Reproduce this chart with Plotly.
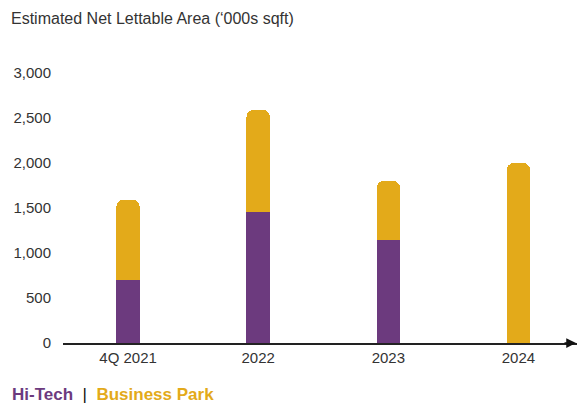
import plotly.graph_objects as go

# Estimated net lettable area, '000s sqft
periods = ["4Q 2021", "2022", "2023", "2024"]
hi_tech = [700, 1460, 1150, 0]
business_park = [890, 1130, 650, 2000]

PURPLE = "#6C3A7E"
GOLD = "#E3AA1A"
TEXT = "#333333"
FONT = "Liberation Sans, Arial, sans-serif"

L, T, B, W = 63, 73, 62, 577
PLOT_W, PLOT_H = W - L, 405 - T - B

fig = go.Figure()
fig.add_bar(x=periods, y=hi_tech, name="Hi-Tech", marker_color=PURPLE,
            marker_line_width=0)
fig.add_bar(x=periods, y=business_park, name="Business Park", marker_color=GOLD,
            marker_line_width=0)

fig.update_layout(
    width=577, height=405,
    margin=dict(l=L, r=0, t=T, b=B),
    barmode="stack", bargap=0.82, barcornerradius=7,
    plot_bgcolor="white", paper_bgcolor="white",
    showlegend=False,
    font=dict(family=FONT, size=15, color=TEXT),
    title=dict(text="Estimated Net Lettable Area (‘000s sqft)",
               x=11 / 577, xref="container", xanchor="left",
               y=1 - 18 / 405, yref="container", yanchor="middle",
               font=dict(family=FONT, size=16, color=TEXT)),
)

fig.update_xaxes(range=[-0.5, 3.45], showline=True, linecolor="#222222",
                 linewidth=1.5, ticks="", showgrid=False,
                 tickfont=dict(size=15, color=TEXT))
fig.update_yaxes(range=[0, 3000], tickvals=[0, 500, 1000, 1500, 2000, 2500, 3000],
                 tickformat=",d", showgrid=False, zeroline=False, showline=False,
                 ticklabelstandoff=11, tickfont=dict(size=15, color=TEXT))

# Arrowhead at the end of the category axis
fig.add_annotation(x=1, y=0, xref="paper", yref="paper", ax=-14, ay=0,
                   showarrow=True, arrowhead=2, arrowsize=1.3, arrowwidth=1.5,
                   arrowcolor="#111111", text="")

# Series key under the chart
fig.add_annotation(
    x=(11 - L) / PLOT_W, xref="paper", y=-(394 - 343) / PLOT_H, yref="paper",
    xanchor="left", yanchor="middle", showarrow=False, borderpad=0,
    text=(f"<b><span style='color:{PURPLE}'>Hi-Tech</span></b>"
          f"  <span style='color:#111111'>|</span>  "
          f"<b><span style='color:{GOLD}'>Business Park</span></b>"),
    font=dict(family=FONT, size=17),
)

fig.write_html("out.html")
